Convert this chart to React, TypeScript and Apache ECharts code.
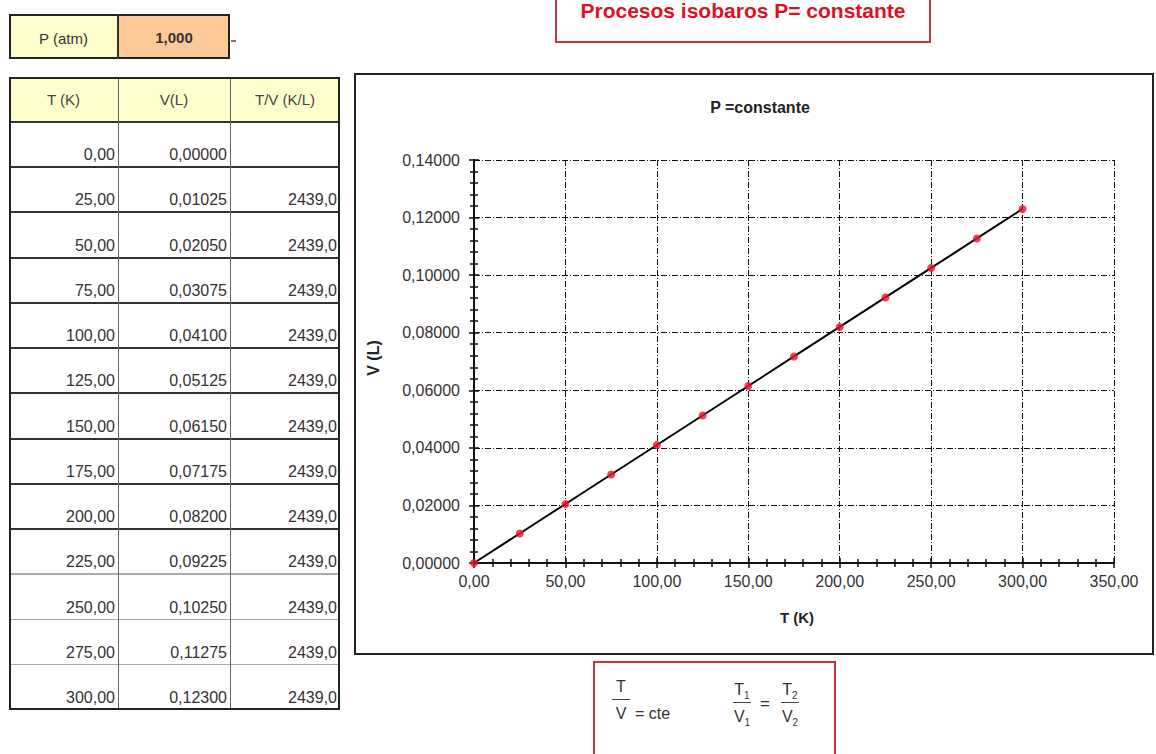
import React, { useEffect, useRef } from "react";
import * as echarts from "echarts";

// ---- data ----
const T_K = [0, 25, 50, 75, 100, 125, 150, 175, 200, 225, 250, 275, 300];
const V_L = [0, 0.01025, 0.0205, 0.03075, 0.041, 0.05125, 0.0615, 0.07175, 0.082, 0.09225, 0.1025, 0.11275, 0.123];
const T_OVER_V: (number | null)[] = [null, 2439.0, 2439.0, 2439.0, 2439.0, 2439.0, 2439.0, 2439.0, 2439.0, 2439.0, 2439.0, 2439.0, 2439.0];
const PRESSURE_ATM = 1.0;
const TABLE_HEADERS = ["T (K)", "V(L)", "T/V (K/L)"];
const X_RANGE = [0, 350];
const X_STEP = 50;
const Y_RANGE = [0, 0.14];
const Y_STEP = 0.02;
const PAGE_TITLE = "Procesos isobaros P= constante";
const CHART_TITLE = "P =constante";
const X_NAME = "T (K)";
const Y_NAME = "V (L)";

const FONT = "'Liberation Sans', Arial, sans-serif";
const comma = (v: number, d: number) => v.toFixed(d).replace(".", ",");

const COLS = [9, 118, 230, 340];
const HEAD_TOP = 77;
const HEAD_BOTTOM = 122;
const TABLE_BOTTOM = 710;

function Chart() {
  const ref = useRef<HTMLDivElement>(null);
  useEffect(() => {
    if (!ref.current) return;
    const chart = echarts.init(ref.current, undefined, { renderer: "svg" });
    const pts = T_K.map((t, i) => [t, V_L[i]]);
    const gridLine = { show: true, lineStyle: { color: "#111", width: 1, type: [6, 2, 1, 2] } };
    const axisLine = { show: true, onZero: false, lineStyle: { color: "#111", width: 2 } };
    const label = { color: "#333", fontSize: 16, fontFamily: FONT };
    const tick = (inside: boolean) => ({ show: true, inside, length: 5, lineStyle: { color: "#111", width: 1.5 } });
    const minor = { show: true, splitNumber: 5, length: 4, lineStyle: { color: "#111", width: 1.5 } };
    chart.setOption({
      animation: false,
      grid: { left: 474, right: 42, top: 160, bottom: 191, containLabel: false, outerBoundsMode: "none" },
      xAxis: [
        {
          type: "value", min: X_RANGE[0], max: X_RANGE[1], interval: X_STEP, position: "bottom",
          axisLine, axisTick: tick(false), minorTick: minor,
          axisLabel: { ...label, margin: 10, formatter: (v: number) => comma(v, 2) },
          splitLine: gridLine,
        },
        {
          type: "value", min: X_RANGE[0], max: X_RANGE[1], interval: X_STEP, position: "bottom",
          axisLine, axisTick: tick(true), minorTick: minor,
          axisLabel: { show: false }, splitLine: { show: false },
        },
      ],
      yAxis: [
        {
          type: "value", min: Y_RANGE[0], max: Y_RANGE[1], interval: Y_STEP, position: "left",
          axisLine, axisTick: tick(false), minorTick: minor,
          axisLabel: { ...label, margin: 14, formatter: (v: number) => comma(v, 5) },
          splitLine: gridLine,
        },
        {
          type: "value", min: Y_RANGE[0], max: Y_RANGE[1], interval: Y_STEP, position: "left",
          axisLine, axisTick: tick(true), minorTick: minor,
          axisLabel: { show: false }, splitLine: { show: false },
        },
      ],
      graphic: [
        {
          type: "rect", shape: { x: 355, y: 74, width: 798, height: 580 },
          style: { fill: "none", stroke: "#222", lineWidth: 2 }, z: -1,
        },
        {
          type: "text", x: 760, y: 107,
          style: { text: CHART_TITLE, fill: "#222", font: `bold 16px ${FONT}`, align: "center", verticalAlign: "middle" },
        },
        {
          type: "text", x: 797, y: 617,
          style: { text: X_NAME, fill: "#222", font: `bold 15px ${FONT}`, align: "center", verticalAlign: "middle" },
        },
        {
          type: "text", x: 373, y: 358, rotation: Math.PI / 2,
          style: { text: Y_NAME, fill: "#222", font: `bold 16px ${FONT}`, align: "center", verticalAlign: "middle" },
        },
      ],
      series: [
        {
          type: "line", data: pts, xAxisIndex: 0, yAxisIndex: 0, showSymbol: false,
          lineStyle: { color: "#000", width: 2 }, z: 2,
        },
        {
          type: "scatter", data: pts, xAxisIndex: 0, yAxisIndex: 0, symbol: "circle", symbolSize: 8,
          itemStyle: { color: "#e8132d" }, z: 3,
        },
      ],
    });
    return () => chart.dispose();
  }, []);
  return <div ref={ref} style={{ position: "absolute", left: 0, top: 0, width: 1156, height: 754 }} />;
}

const abs = (s: React.CSSProperties): React.CSSProperties => ({ position: "absolute", boxSizing: "border-box", ...s });

function Table() {
  const n = T_K.length;
  const rowH = (TABLE_BOTTOM - HEAD_BOTTOM) / n;
  const els: React.ReactNode[] = [];
  els.push(<div key="hb" style={abs({ left: COLS[0], top: HEAD_TOP, width: COLS[3] - COLS[0], height: HEAD_BOTTOM - HEAD_TOP, background: "#ffffcc" })} />);
  for (let k = 1; k < n; k++) {
    const y = HEAD_BOTTOM + k * rowH;
    els.push(<div key={"rl" + k} style={abs({ left: COLS[0], top: y - 1, width: COLS[3] - COLS[0], height: k <= 9 ? 2 : 1.5, background: k <= 9 ? "#333" : "#aaa" })} />);
  }
  els.push(<div key="hl" style={abs({ left: COLS[0], top: HEAD_BOTTOM - 1, width: COLS[3] - COLS[0], height: 2, background: "#333" })} />);
  [1, 2].forEach((c) => {
    els.push(<div key={"cl" + c} style={abs({ left: COLS[c] - 0.5, top: HEAD_TOP, width: 1.2, height: TABLE_BOTTOM - HEAD_TOP, background: "#666" })} />);
  });
  els.push(<div key="ob" style={abs({ left: COLS[0], top: HEAD_TOP, width: COLS[3] - COLS[0], height: TABLE_BOTTOM - HEAD_TOP, border: "2px solid #222" })} />);
  TABLE_HEADERS.forEach((h, c) => {
    els.push(
      <div key={"h" + c} style={abs({ left: COLS[c], top: HEAD_TOP, width: COLS[c + 1] - COLS[c], height: HEAD_BOTTOM - HEAD_TOP, lineHeight: `${HEAD_BOTTOM - HEAD_TOP}px`, textAlign: "center", fontSize: 15, color: "#444" })}>{h}</div>
    );
  });
  T_K.forEach((t, i) => {
    const bottom = HEAD_BOTTOM + (i + 1) * rowH;
    const vals = [comma(t, 2), comma(V_L[i], 5), T_OVER_V[i] == null ? "" : comma(T_OVER_V[i] as number, 1)];
    vals.forEach((v, c) => {
      const right = COLS[c + 1] - 3;
      els.push(
        <div key={`d${i}-${c}`} style={abs({ left: right - 110, top: bottom - 24, width: 110, height: 24, lineHeight: "24px", textAlign: "right", fontSize: 16, color: "#333", whiteSpace: "nowrap" })}>{v}</div>
      );
    });
  });
  return <>{els}</>;
}

function Frac({ x, y, num, den, sub1, sub2 }: { x: number; y: number; num: string; den: string; sub1?: string; sub2?: string }) {
  return (
    <>
      <div style={abs({ left: x - 15, top: y - 23, width: 30, height: 20, lineHeight: "20px", textAlign: "center", fontSize: 16, color: "#333" })}>
        {num}{sub1 ? <sub style={{ fontSize: 10 }}>{sub1}</sub> : null}
      </div>
      <div style={abs({ left: x - 9, top: y - 1, width: 18, height: 1.2, background: "#444" })} />
      <div style={abs({ left: x - 15, top: y + 4, width: 30, height: 20, lineHeight: "20px", textAlign: "center", fontSize: 16, color: "#333" })}>
        {den}{sub2 ? <sub style={{ fontSize: 10 }}>{sub2}</sub> : null}
      </div>
    </>
  );
}

export default function App() {
  return (
    <div style={{ position: "absolute", left: 0, top: 0, width: 1156, height: 754, overflow: "hidden", background: "#fff", fontFamily: FONT }}>
      <Chart />
      <div style={abs({ left: 0, top: 0, width: 0, height: 0, zIndex: 1 })}>
        {/* pressure box */}
        <div style={abs({ left: 9, top: 14, width: 109, height: 45, background: "#ffffcc" })} />
        <div style={abs({ left: 118, top: 14, width: 112, height: 45, background: "#fdc998" })} />
        <div style={abs({ left: 9, top: 14, width: 221, height: 45, border: "2px solid #222" })} />
        <div style={abs({ left: 117, top: 14, width: 1.5, height: 45, background: "#333" })} />
        <div style={abs({ left: 9, top: 27, width: 109, height: 24, lineHeight: "24px", textAlign: "center", fontSize: 15, color: "#333" })}>P (atm)</div>
        <div style={abs({ left: 118, top: 26, width: 112, height: 24, lineHeight: "24px", textAlign: "center", fontSize: 15, fontWeight: "bold", color: "#333" })}>{comma(PRESSURE_ATM, 3)}</div>
        <div style={abs({ left: 231, top: 40, width: 5, height: 1.5, background: "#777" })} />

        <Table />

        {/* page title box */}
        <div style={abs({ left: 555, top: -10, width: 376, height: 53, border: "2px solid #c9333a" })} />
        <div style={abs({ left: 555, top: 0, width: 376, height: 22, lineHeight: "22px", textAlign: "center", fontSize: 21, fontWeight: "bold", color: "#e2101f", whiteSpace: "nowrap" })}>{PAGE_TITLE}</div>

        {/* formula box */}
        <div style={abs({ left: 593, top: 661, width: 243, height: 110, border: "2px solid #c9333a" })} />
        <Frac x={621} y={700} num="T" den="V" />
        <div style={abs({ left: 635, top: 703, width: 60, height: 22, lineHeight: "22px", fontSize: 16, color: "#333" })}>= cte</div>
        <Frac x={742} y={703} num="T" den="V" sub1="1" sub2="1" />
        <div style={abs({ left: 758, top: 693, width: 14, height: 22, lineHeight: "22px", textAlign: "center", fontSize: 17, color: "#333" })}>=</div>
        <Frac x={790} y={703} num="T" den="V" sub1="2" sub2="2" />
      </div>
    </div>
  );
}
